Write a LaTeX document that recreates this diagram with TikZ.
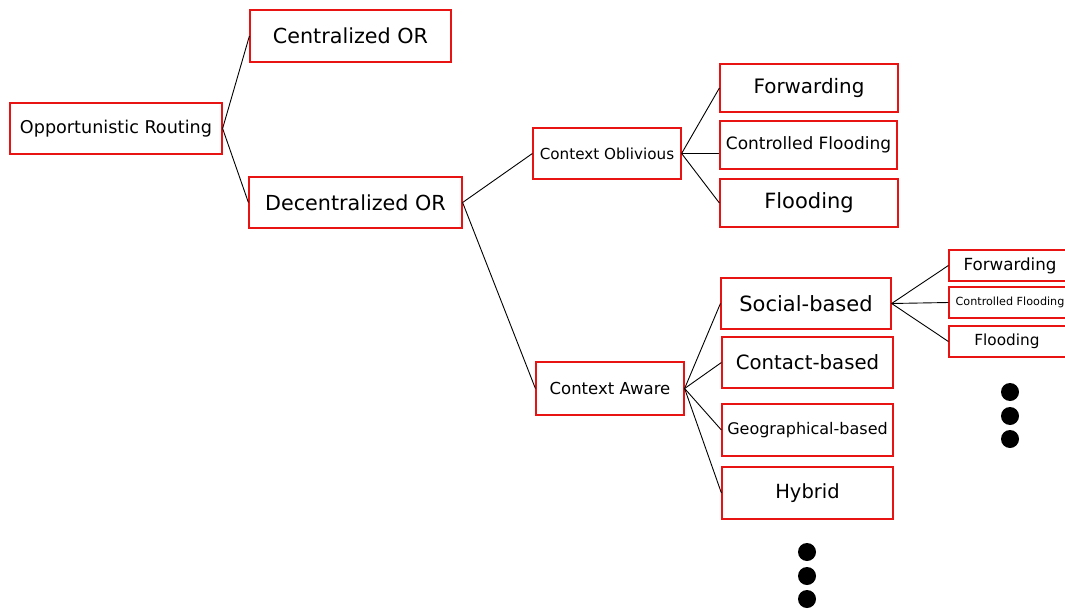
\documentclass[tikz,border=0pt]{standalone}
\usepackage{fontspec}
\setmainfont{DejaVu Sans}
\definecolor{boxred}{RGB}{232,20,20}
\tikzset{
  box/.style={draw=boxred, line width=1.2pt, inner sep=0pt, align=center, text=black},
  link/.style={draw=black, line width=0.9pt},
  dot/.style={fill=black}
}
\newcommand{\fs}[1]{\fontsize{#1}{#1}\selectfont}
\begin{document}
\begin{tikzpicture}[x=1pt,y=-1pt]
\useasboundingbox (0,0) rectangle (1065,610);
\clip (0,0) rectangle (1065,610);
% level 0
\node[box, minimum width=212pt, minimum height=51pt] (or) at (116,128.5) {\fs{17.6}Opportunistic Routing};
% level 1
\node[box, minimum width=201pt, minimum height=52pt] (cor) at (350.5,36) {\fs{20.7}Centralized OR};
\node[box, minimum width=213pt, minimum height=51pt] (dor) at (355.5,202.5) {\fs{20.7}Decentralized OR};
% level 2
\node[box, minimum width=148pt, minimum height=51pt] (co) at (607,153.5) {\fs{15.2}Context Oblivious};
\node[box, minimum width=148pt, minimum height=53pt] (ca) at (610,388.5) {\fs{16.5}Context Aware};
% level 3 (oblivious)
\node[box, minimum width=178pt, minimum height=48pt] (fw1) at (809,88) {\fs{19.9}Forwarding};
\node[box, minimum width=177pt, minimum height=48pt] (cf1) at (808.5,145) {\fs{17}Controlled Flooding};
\node[box, minimum width=178pt, minimum height=48pt] (fl1) at (809,203) {\fs{21}Flooding};
% level 3 (aware)
\node[box, minimum width=170pt, minimum height=51pt] (sb) at (806,303.5) {\fs{21}Social-based};
\node[box, minimum width=171pt, minimum height=51pt] (cb) at (807.5,362.5) {\fs{19.7}Contact-based};
\node[box, minimum width=171pt, minimum height=52pt] (gb) at (807.5,430) {\fs{16}Geographical-based};
\node[box, minimum width=171pt, minimum height=52pt] (hy) at (807.5,493) {\fs{19.5}Hybrid};
% level 4 (social)
\node[box, minimum width=122pt, minimum height=31pt] (fw2) at (1010,265.5) {\fs{16.7}Forwarding};
\node[box, minimum width=122pt, minimum height=31pt] (cf2) at (1010,302.5) {\fs{11.2}Controlled Flooding};
\node[box, minimum width=122pt, minimum height=31pt] (fl2) at (1010,341.5) {\fs{15.3}\hspace*{-6pt}Flooding};
% connectors
\draw[link] (or.east) -- (cor.west);
\draw[link] (or.east) -- (dor.west);
\draw[link] (dor.east) -- (co.west);
\draw[link] (dor.east) -- (ca.west);
\draw[link] (co.east) -- (fw1.west);
\draw[link] (co.east) -- (co.east -| cf1.west);
\draw[link] (co.east) -- (fl1.west);
\draw[link] (ca.east) -- (sb.west);
\draw[link] (ca.east) -- (cb.west);
\draw[link] (ca.east) -- (gb.west);
\draw[link] (ca.east) -- (hy.west);
\draw[link] (sb.east) -- (fw2.west);
\draw[link] (sb.east) -- (cf2.west);
\draw[link] (sb.east) -- (fl2.west);
% ellipsis dots
\foreach \y [count=\i] in {392,416,439} {
  \fill[dot] (1010,\y) circle (9pt);
  \coordinate (rdot\i) at (1010,\y);
}
\foreach \y [count=\i] in {552,576,599} {
  \fill[dot] (807,\y) circle (9pt);
  \coordinate (bdot\i) at (807,\y);
}
\end{tikzpicture}
\end{document}
